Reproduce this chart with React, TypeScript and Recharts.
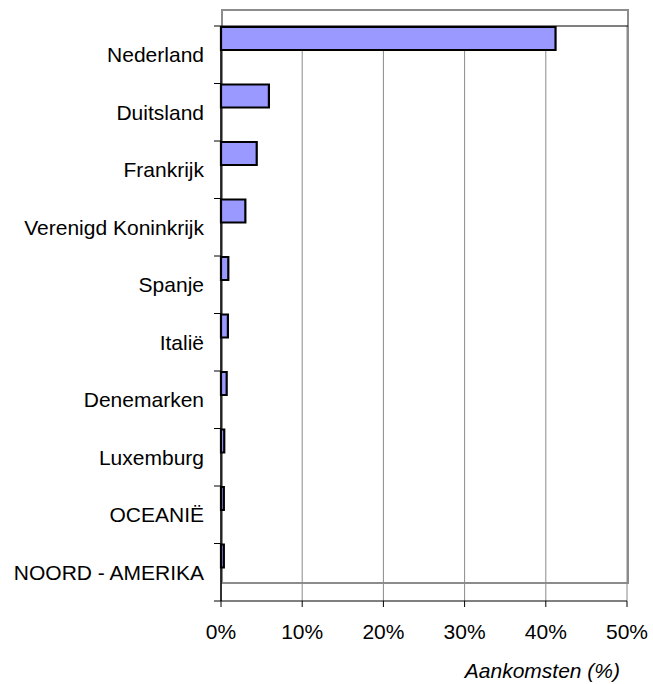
import { BarChart, Bar, XAxis, YAxis, CartesianGrid, Label } from "recharts";

const landen = [
  "Nederland",
  "Duitsland",
  "Frankrijk",
  "Verenigd Koninkrijk",
  "Spanje",
  "Italië",
  "Denemarken",
  "Luxemburg",
  "OCEANIË",
  "NOORD - AMERIKA",
];
const aankomsten = [41.2, 5.9, 4.4, 3.0, 0.9, 0.85, 0.7, 0.4, 0.35, 0.35];
const xTicks = [0, 10, 20, 30, 40, 50];

const W = 653;
const H = 684;
const PLOT_LEFT = 221;
const PLOT_RIGHT = 627;
const PLOT_TOP = 26;
const PLOT_BOTTOM = 601;
const BAND = (PLOT_BOTTOM - PLOT_TOP) / landen.length;
const FONT = "'Liberation Sans', Arial, sans-serif";
const FONT_SIZE = 21;

const data = landen.map((naam, i) => ({ naam, aandeel: aankomsten[i] }));

const CategoryTick = (props: any) => {
  const { x, y, payload, index } = props;
  const top = y - BAND / 2;
  const last = index === landen.length - 1;
  return (
    <g>
      <line
        x1={PLOT_LEFT - 7}
        x2={index === 0 ? PLOT_RIGHT + 1 : PLOT_LEFT}
        y1={top}
        y2={top}
        stroke="#000"
        strokeWidth={1}
      />
      {last && (
        <line x1={PLOT_LEFT - 7} x2={PLOT_LEFT} y1={top + BAND} y2={top + BAND} stroke="#000" />
      )}
      <text
        x={x}
        y={y}
        dy="0.35em"
        textAnchor="end"
        fill="#000"
        fontFamily={FONT}
        fontSize={FONT_SIZE}
      >
        {payload.value}
      </text>
    </g>
  );
};

export default function App() {
  return (
    <div style={{ position: "absolute", left: 0, top: 0, width: W, height: H, background: "#fff" }}>
      <svg width={W} height={H} style={{ position: "absolute", left: 0, top: 0 }}>
        <rect x={222} y={10} width={406} height={573} fill="none" stroke="#8c8c8c" strokeWidth={2} />
      </svg>
      <div style={{ position: "absolute", left: 0, top: 0 }}>
        <BarChart
          width={W}
          height={H}
          data={data}
          layout="vertical"
          margin={{ top: PLOT_TOP, right: W - PLOT_RIGHT, bottom: 0, left: 0 }}
          barCategoryGap={1}
          barGap={9.5}
        >
          <CartesianGrid horizontal={false} stroke="#8a8a8a" strokeWidth={1} />
          <XAxis
            type="number"
            domain={[0, 50]}
            ticks={xTicks}
            tickFormatter={(v) => `${v}%`}
            axisLine={{ stroke: "#000", strokeWidth: 1 }}
            tickLine={{ stroke: "#000" }}
            tickSize={6}
            tickMargin={17}
            height={H - PLOT_BOTTOM}
            tick={{ fill: "#000", fontFamily: FONT, fontSize: FONT_SIZE }}
          >
            <Label
              content={() => (
                <text
                  x={620}
                  y={678}
                  textAnchor="end"
                  fontStyle="italic"
                  fontFamily={FONT}
                  fontSize={FONT_SIZE}
                  fill="#000"
                >
                  Aankomsten (%)
                </text>
              )}
            />
          </XAxis>
          <YAxis
            type="category"
            dataKey="naam"
            width={PLOT_LEFT}
            axisLine={{ stroke: "#000", strokeWidth: 1.5 }}
            tickLine={false}
            tickSize={7}
            tickMargin={10}
            interval={0}
            tick={<CategoryTick />}
          />
          <Bar
            dataKey="aandeel"
            fill="#9999ff"
            stroke="#000"
            strokeWidth={2.2}
            isAnimationActive={false}
          />
          <Bar dataKey="leeg" fill="none" isAnimationActive={false} />
        </BarChart>
      </div>
    </div>
  );
}
